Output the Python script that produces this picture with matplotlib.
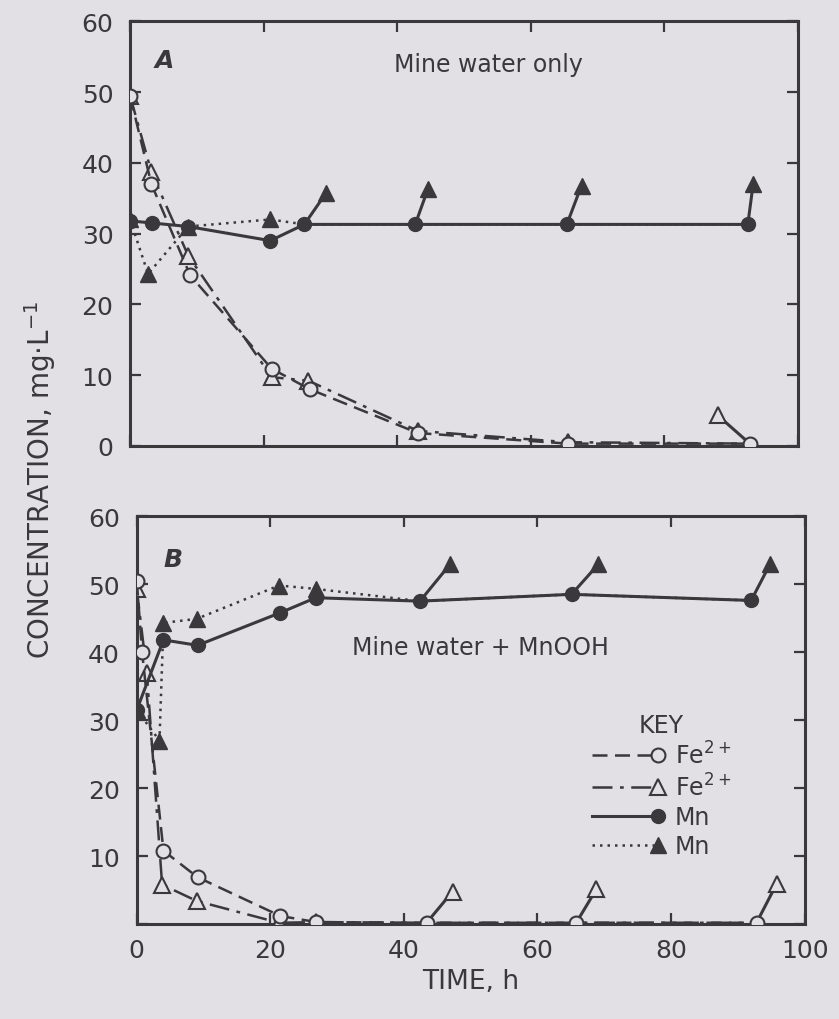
import numpy as np
import matplotlib.pyplot as plt
from matplotlib.legend_handler import HandlerLine2DCompound
from matplotlib.lines import Line2D

bg = "#e2e0e5"
ink = "#3b383b"

# Panel A: mine water only
feA_circ_x = [0, 3.2, 9.0, 21.2, 26.9, 43.1, 65.6, 92.8]
feA_circ_y = [49.5, 37.0, 24.1, 10.9, 8.0, 1.8, 0.3, 0.3]
feA_tri_x = [0, 3.2, 8.7, 21.2, 26.7, 43.1, 65.6, 92.8]
feA_tri_y = [49.5, 38.7, 26.9, 9.7, 9.2, 2.1, 0.5, 0.3]
mnA_circ_x = [0, 3.3, 8.7, 21.0, 26.1, 42.7, 65.4, 92.5]
mnA_circ_y = [31.8, 31.5, 31.0, 29.0, 31.3, 31.3, 31.3, 31.3]
mnA_tri_x = [0, 2.7, 8.7, 21.0, 26.1, 42.7, 65.4, 92.5]
mnA_tri_y = [32.0, 24.3, 31.0, 32.0, 31.3, 31.3, 31.3, 31.3]
# triangles displaced from coincident points (drawn with leader lines)
mnA_off_x = [29.4, 44.6, 67.6, 93.3]
mnA_off_y = [35.8, 36.3, 36.8, 37.0]
mnA_off_idx = [4, 5, 6, 7]
feA_off_x = [88.0]
feA_off_y = [4.3]
feA_off_idx = [7]

# Panel B: mine water + MnOOH
feB_circ_x = [0, 0.8, 4.0, 9.1, 21.5, 26.9, 43.4, 65.8, 92.8]
feB_circ_y = [50.5, 40.0, 10.8, 6.9, 1.2, 0.3, 0.2, 0.2, 0.2]
feB_tri_x = [0, 1.5, 3.8, 9.0, 21.3, 26.9, 43.4, 65.8, 92.8]
feB_tri_y = [49.3, 37.0, 5.8, 3.4, 0.2, 0.3, 0.2, 0.2, 0.2]
mnB_circ_x = [0, 4.0, 9.1, 21.5, 26.8, 42.4, 65.1, 92.0]
mnB_circ_y = [31.5, 41.8, 41.0, 45.8, 48.0, 47.5, 48.5, 47.6]
mnB_tri_x = [0, 3.4, 4.0, 9.0, 21.3, 26.8, 42.4, 65.1, 92.0]
mnB_tri_y = [31.5, 27.0, 44.3, 44.9, 49.8, 49.3, 47.5, 48.5, 47.6]
mnB_off_x = [46.9, 69.1, 94.8]
mnB_off_y = [52.9, 52.9, 52.9]
mnB_off_idx = [6, 7, 8]
feB_off_x = [47.3, 68.8, 95.8]
feB_off_y = [4.8, 5.1, 5.9]
feB_off_idx = [6, 7, 8]

x_ticks = [0, 20, 40, 60, 80, 100]
y_ticks = [0, 10, 20, 30, 40, 50, 60]

plt.rcParams["font.family"] = ["DejaVu Sans"]
plt.rcParams["text.color"] = ink

fig = plt.figure(figsize=(8.39, 10.2), dpi=100, facecolor=bg)
axA = fig.add_axes([0.155, 0.562, 0.796, 0.416])
axB = fig.add_axes([0.163, 0.093, 0.796, 0.400])

lw = 1.8
ms = 10
s_circ = dict(color=ink, lw=lw, ls=(0, (6, 3)), marker="o", ms=ms,
              mfc=bg, mec=ink, mew=1.5)
s_tri = dict(color=ink, lw=lw, ls=(0, (8, 3, 1.5, 3)), marker="^", ms=ms + 1,
             mfc=bg, mec=ink, mew=1.5)
s_mnc = dict(color=ink, lw=lw + 0.4, ls="-", marker="o", ms=ms, mfc=ink, mec=ink)
s_mnt = dict(color=ink, lw=lw, ls=(0, (1, 2)), marker="^", ms=ms + 2,
             mfc=ink, mec=ink)


def panel(ax, fe_c, fe_t, mn_c, mn_t, mn_off, fe_off):
    ax.set_facecolor(bg)
    # lines with markers only where points don't coincide with the circles
    mn_hide = set(mn_off[2])
    fe_hide = set(fe_off[2])
    ax.plot(mn_t[0], mn_t[1], zorder=3,
            markevery=[i for i in range(len(mn_t[0])) if i not in mn_hide], **s_mnt)
    ax.plot(mn_c[0], mn_c[1], zorder=4, **s_mnc)
    ax.plot(fe_t[0], fe_t[1], zorder=3,
            markevery=[i for i in range(len(fe_t[0])) if i not in fe_hide], **s_tri)
    ax.plot(fe_c[0], fe_c[1], zorder=4, **s_circ)
    # displaced markers with leaders
    for ox, oy, i in zip(*mn_off):
        ax.plot([mn_t[0][i], ox], [mn_t[1][i], oy], color=ink, lw=2.2, zorder=2)
    ax.plot(mn_off[0], mn_off[1], ls="none", marker="^", ms=ms + 2, mfc=ink, mec=ink, zorder=5)
    for ox, oy, i in zip(*fe_off):
        ax.plot([fe_t[0][i], ox], [fe_t[1][i], oy], color=ink, lw=2.2, zorder=2)
    ax.plot(fe_off[0], fe_off[1], ls="none", marker="^", ms=ms + 1, mfc=bg, mec=ink, mew=1.5, zorder=5)

    ax.set_xlim(0, 100)
    ax.set_ylim(0, 60)
    ax.set_xticks(x_ticks)
    ax.set_yticks(y_ticks)
    for s in ax.spines.values():
        s.set_linewidth(2.2)
        s.set_color(ink)
    ax.tick_params(direction="in", length=8, width=1.6, colors=ink,
                   top=True, right=True, labelsize=18, pad=12)


panel(axA, (feA_circ_x, feA_circ_y), (feA_tri_x, feA_tri_y),
      (mnA_circ_x, mnA_circ_y), (mnA_tri_x, mnA_tri_y),
      (mnA_off_x, mnA_off_y, mnA_off_idx), (feA_off_x, feA_off_y, feA_off_idx))
panel(axB, (feB_circ_x, feB_circ_y), (feB_tri_x, feB_tri_y),
      (mnB_circ_x, mnB_circ_y), (mnB_tri_x, mnB_tri_y),
      (mnB_off_x, mnB_off_y, mnB_off_idx), (feB_off_x, feB_off_y, feB_off_idx))

axA.tick_params(labelbottom=False)
axB.set_yticklabels([""] + [str(v) for v in y_ticks[1:]])
axB.tick_params(axis="x", pad=10)
axB.set_xlabel("TIME, h", fontsize=19, color=ink, labelpad=4)

axA.text(0.052, 0.91, "A", transform=axA.transAxes, fontsize=18,
         style="italic", fontweight="bold", ha="center", va="center")
axA.text(0.537, 0.899, "Mine water only", transform=axA.transAxes,
         fontsize=17, ha="center", va="center")
axB.text(0.054, 0.895, "B", transform=axB.transAxes, fontsize=18,
         style="italic", fontweight="bold", ha="center", va="center")
axB.text(0.515, 0.68, "Mine water + MnOOH", transform=axB.transAxes,
         fontsize=17, ha="center", va="center")

fig.text(0.048, 0.53, "CONCENTRATION, mg$\\cdot$L$^{-1}$", rotation=90,
         fontsize=20, ha="center", va="center", color=ink)


class EndMarker(HandlerLine2DCompound):
    # marker at the right end of the legend line
    def get_xdata(self, legend, xdescent, ydescent, width, height, fontsize):
        xdata, _ = super().get_xdata(legend, xdescent, ydescent, width, height, fontsize)
        return xdata, np.array([width - xdescent])


handles = [Line2D([], [], **s_circ), Line2D([], [], **s_tri),
           Line2D([], [], **s_mnc), Line2D([], [], **s_mnt)]
labels = ["Fe$^{2+}$", "Fe$^{2+}$", "Mn", "Mn"]
leg = axB.legend(handles, labels, title="KEY", loc="upper left",
                 bbox_to_anchor=(0.65, 0.57), frameon=False, fontsize=17,
                 title_fontsize=17, handlelength=2.8, handletextpad=0.7,
                 labelspacing=0.2, numpoints=1,
                 handler_map={h: EndMarker() for h in handles})
for t in leg.get_texts():
    t.set_color(ink)
leg.get_title().set_color(ink)

fig.savefig("out.png", dpi=100, facecolor=bg)
